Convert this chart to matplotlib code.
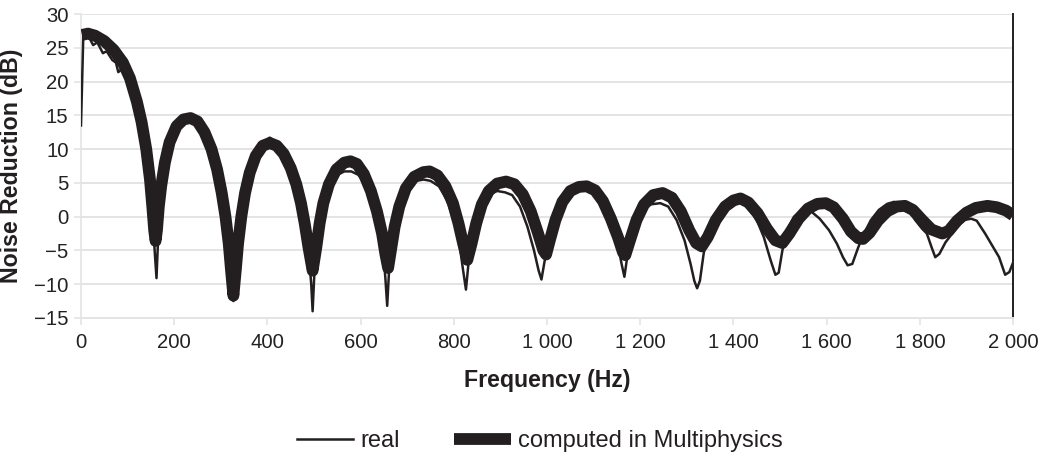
import matplotlib.pyplot as plt

# frequency (Hz) / noise reduction (dB)
real_f = [0, 5, 12, 20, 26, 35, 47, 55, 67, 75, 80, 90, 100, 110, 120, 130, 140, 148, 154, 158,
          162, 165, 170, 180, 190, 205, 220, 235, 250, 265, 280, 292, 302, 310, 317, 322, 327, 332,
          337, 344, 352, 362, 375, 390, 405, 420, 435, 450, 462, 472, 480, 488, 494, 497, 501, 507,
          515, 528, 545, 565, 580, 595, 610, 625, 637, 647, 653, 657, 661, 667, 677, 692, 712, 735,
          750, 768, 785, 800, 812, 820, 826, 832, 842, 855, 872, 893, 910, 925, 942, 958, 972, 982,
          988, 995, 1005, 1018, 1033, 1050, 1068, 1085, 1103, 1120, 1137, 1150, 1160, 1166, 1173,
          1185, 1200, 1220, 1243, 1260, 1278, 1295, 1308, 1316, 1322, 1328, 1336, 1345, 1362, 1385,
          1410, 1430, 1450, 1465, 1480, 1490, 1497, 1505, 1515, 1530, 1550, 1568, 1585, 1605, 1622,
          1635, 1645, 1655, 1668, 1680, 1695, 1712, 1730, 1745, 1760, 1775, 1790, 1805, 1815, 1825,
          1833, 1842, 1855, 1866, 1880, 1895, 1910, 1922, 1940, 1957, 1970, 1983, 1992, 2000]
real_db = [13.5, 27.0, 26.8, 26.2, 25.4, 25.8, 24.2, 24.5, 23.2, 22.8, 21.4, 22.0, 21.0, 19.0, 17.0,
           14.0, 10.0, 5.0, 0.0, -5.0, -9.1, -4.0, 1.0, 7.5, 10.8, 13.2, 14.3, 14.4, 14.0, 12.4, 10.0,
           7.0, 3.5, 0.0, -4.0, -8.0, -12.5, -8.0, -4.0, 0.0, 3.5, 6.5, 9.2, 11.0, 11.7, 11.0, 9.4,
           7.2, 4.8, 2.0, -1.0, -5.0, -10.0, -14.0, -8.0, -2.5, 1.0, 4.0, 6.0, 6.7, 6.7, 6.2, 4.8,
           2.5, -0.5, -4.0, -9.0, -13.2, -8.0, -2.5, 0.8, 3.7, 5.2, 5.5, 5.3, 4.5, 2.5, -0.5, -4.0,
           -8.0, -10.8, -6.5, -2.0, 1.5, 3.2, 3.8, 3.6, 3.2, 1.5, -1.5, -5.0, -8.0, -9.3, -6.5, -3.0,
           0.0, 2.5, 3.9, 4.4, 4.4, 3.9, 2.2, -0.5, -3.5, -7.0, -8.9, -5.5, -2.0, 0.5, 1.8, 2.0, 1.5,
           -0.5, -3.5, -7.0, -9.5, -10.6, -9.5, -5.5, -2.5, 0.0, 2.0, 2.6, 1.5, -0.5, -3.0, -6.5,
           -8.6, -8.3, -5.0, -2.0, 0.0, 0.8, 0.7, -0.3, -2.0, -4.0, -6.0, -7.2, -7.0, -4.5, -2.5,
           -0.5, 1.0, 1.9, 2.2, 1.8, 1.2, -0.5, -1.8, -2.5, -4.5, -6.0, -5.5, -3.8, -2.8, -1.5, -0.5,
           -0.3, -0.6, -2.5, -4.5, -6.0, -8.6, -8.2, -6.8]

comp_f = [2, 15, 30, 50, 70, 90, 105, 120, 130, 140, 148, 153, 157, 160, 163, 167, 172, 180, 190,
          205, 220, 235, 250, 265, 280, 292, 302, 310, 317, 322, 327, 332, 337, 344, 352, 362, 375,
          390, 405, 420, 435, 450, 462, 472, 480, 488, 497, 505, 512, 520, 532, 548, 565, 578, 592,
          607, 622, 635, 646, 653, 659, 665, 673, 683, 697, 715, 735, 748, 765, 782, 798, 810, 820,
          829, 838, 848, 860, 875, 893, 912, 930, 948, 965, 980, 992, 998, 1006, 1018, 1033, 1050,
          1068, 1085, 1103, 1120, 1137, 1152, 1163, 1168, 1178, 1192, 1208, 1228, 1248, 1268, 1287,
          1305, 1320, 1332, 1345, 1362, 1382, 1400, 1415, 1432, 1452, 1472, 1490, 1505, 1520, 1540,
          1560, 1580, 1598, 1615, 1635, 1652, 1668, 1678, 1692, 1710, 1730, 1750, 1768, 1785, 1805,
          1825, 1848, 1862, 1880, 1900, 1920, 1945, 1965, 1985, 2000]
comp_db = [26.9, 27.1, 26.8, 26.0, 24.7, 22.8, 20.5, 17.0, 14.0, 10.0, 5.5, 1.5, -2.0, -3.6, -2.0,
           1.5, 4.5, 8.0, 11.0, 13.4, 14.4, 14.6, 14.1, 12.5, 10.0, 7.0, 3.5, 0.0, -4.0, -8.0,
           -11.7, -8.0, -4.0, 0.0, 3.5, 6.5, 9.0, 10.5, 10.9, 10.5, 9.3, 7.2, 4.8, 2.0, -1.0, -4.5,
           -8.0, -4.5, -1.0, 2.0, 4.8, 7.0, 8.0, 8.2, 7.8, 6.3, 3.8, 0.8, -2.5, -5.5, -7.6, -5.0,
           -1.5, 1.5, 4.2, 5.9, 6.6, 6.7, 6.1, 4.5, 2.0, -1.0, -4.0, -6.4, -4.0, -1.0, 1.8, 3.8,
           4.9, 5.2, 4.8, 3.3, 0.8, -2.3, -5.0, -5.6, -3.5, -0.5, 2.2, 3.8, 4.4, 4.5, 3.9, 2.3,
           -0.3, -3.0, -5.3, -5.7, -3.5, -0.5, 1.8, 3.2, 3.5, 2.8, 0.8, -2.0, -3.9, -4.4, -3.0,
           -0.5, 1.5, 2.4, 2.7, 2.1, 0.5, -1.8, -3.5, -3.9, -2.5, -0.3, 1.2, 1.9, 2.0, 1.4, -0.3,
           -2.2, -3.2, -3.3, -2.4, -0.6, 0.8, 1.5, 1.6, 1.0, -0.5, -1.9, -2.5, -2.1, -0.6, 0.6, 1.3,
           1.6, 1.4, 0.9, 0.2]

x_ticks = [0, 200, 400, 600, 800, 1000, 1200, 1400, 1600, 1800, 2000]
x_tick_labels = ["0", "200", "400", "600", "800", "1 000", "1 200", "1 400", "1 600", "1 800", "2 000"]
y_ticks = [-15, -10, -5, 0, 5, 10, 15, 20, 25, 30]

ink = "#231f20"
grid_col = "#e4e4e4"

plt.rcParams["font.family"] = ["Liberation Sans", "DejaVu Sans"]

fig = plt.figure(figsize=(10.52, 4.58), dpi=100)
ax = fig.add_axes([0.077, 0.3057, 0.886, 0.6637])

ax.plot(comp_f, comp_db, color=ink, linewidth=8.5, solid_capstyle="butt", label="computed in Multiphysics", zorder=3)
ax.plot(real_f, real_db, color=ink, linewidth=1.8, label="real", zorder=4)

ax.set_xlim(0, 2000)
ax.set_ylim(-15, 30)
ax.set_xticks(x_ticks)
ax.set_xticklabels(x_tick_labels)
ax.set_yticks(y_ticks)
ax.tick_params(axis="both", labelsize=14.6, colors=grid_col, labelcolor="#222222", length=5, width=1.2)
ax.tick_params(axis="x", pad=6)
ax.tick_params(axis="y", pad=4)
ax.grid(axis="y", color=grid_col, linewidth=1.4)
ax.set_axisbelow(True)

ax.spines["top"].set_visible(False)
ax.spines["left"].set_color(grid_col)
ax.spines["bottom"].set_color(grid_col)
ax.spines["left"].set_linewidth(1.2)
ax.spines["bottom"].set_linewidth(1.4)
ax.spines["right"].set_color(ink)
ax.spines["right"].set_linewidth(1.4)

ax.set_xlabel("Frequency (Hz)", fontsize=16.7, fontweight="bold", color=ink, labelpad=12)
ax.set_ylabel("Noise Reduction (dB)", fontsize=16.7, fontweight="bold", color=ink, labelpad=8)

handles, labels = ax.get_legend_handles_labels()
fig.legend(handles[::-1], labels[::-1], loc="center", bbox_to_anchor=(0.513, 0.037), ncol=2,
           frameon=False, fontsize=17, handlelength=2.4, handletextpad=0.3, columnspacing=2.3,
           labelcolor=ink)

plt.savefig("out.png", dpi=100)
